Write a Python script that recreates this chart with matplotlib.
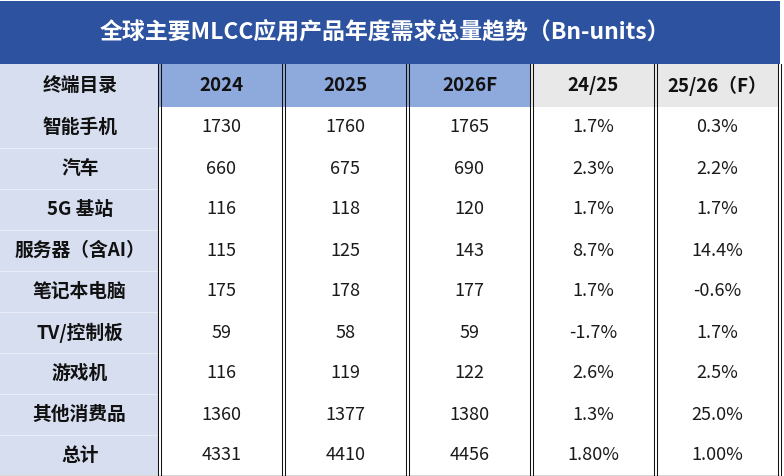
import matplotlib
matplotlib.use("Agg")
import matplotlib.pyplot as plt
from matplotlib.patches import Rectangle

plt.rcParams['font.family'] = ['Noto Sans CJK SC', 'DejaVu Sans']

title = "全球主要MLCC应用产品年度需求总量趋势（Bn-units）"
headers = ["终端目录", "2024", "2025", "2026F", "24/25", "25/26（F）"]
categories = ["智能手机", "汽车", "5G 基站", "服务器（含AI）", "笔记本电脑",
              "TV/控制板", "游戏机", "其他消费品", "总计"]
v2024 = [1730, 660, 116, 115, 175, 59, 116, 1360, 4331]
v2025 = [1760, 675, 118, 125, 178, 58, 119, 1377, 4410]
v2026 = [1765, 690, 120, 143, 177, 59, 122, 1380, 4456]
g2425 = ["1.7%", "2.3%", "1.7%", "8.7%", "1.7%", "-1.7%", "2.6%", "1.3%", "1.80%"]
g2526 = ["0.3%", "2.2%", "1.7%", "14.4%", "-0.6%", "1.7%", "2.5%", "25.0%", "1.00%"]

W, H = 784, 476
fig = plt.figure(figsize=(W / 100, H / 100), dpi=100)
ax = fig.add_axes([0, 0, 1, 1])
ax.set_xlim(0, W)
ax.set_ylim(H, 0)
ax.axis('off')

title_bg = "#2D53A0"
first_col_bg = "#D7DEF0"
head_blue = "#8EA9DB"
head_grey = "#E8E8E8"

col_edges = [0, 159.5, 283.5, 407.5, 531.5, 655.5, 779.5]
title_top, title_bot = 1, 64
head_bot = 107
row_h = (H - head_bot) / len(categories)

# title bar
ax.add_patch(Rectangle((0, title_top), col_edges[-1] + 1, title_bot - title_top,
                       facecolor=title_bg, edgecolor='none'))
ax.text(col_edges[-1] / 2 - 5, (title_top + title_bot) / 2 + 1, title, color='white',
        fontsize=16.5, fontweight='bold', ha='center', va='center')

# first column background
ax.add_patch(Rectangle((0, title_bot), col_edges[1], H - title_bot,
                       facecolor=first_col_bg, edgecolor='none'))
# header fills
for j in range(1, 6):
    c = head_blue if j <= 3 else head_grey
    ax.add_patch(Rectangle((col_edges[j], title_bot), col_edges[j + 1] - col_edges[j],
                           head_bot - title_bot, facecolor=c, edgecolor='none'))

# header text
for j, h in enumerate(headers):
    cx = (col_edges[j] + col_edges[j + 1]) / 2
    ax.text(cx, (title_bot + head_bot) / 2, h, fontsize=13.5, fontweight='heavy',
            ha='center', va='center', color='#111111')

# rows
cols = [v2024, v2025, v2026, g2425, g2526]
for i, cat in enumerate(categories):
    cy = head_bot + row_h * (i + 0.5)
    ax.text(col_edges[1] / 2, cy, cat, fontsize=13.5, fontweight='heavy',
            ha='center', va='center', color='#111111')
    for j, col in enumerate(cols):
        cx = (col_edges[j + 1] + col_edges[j + 2]) / 2
        ax.text(cx, cy, str(col[i]), fontsize=13, ha='center', va='center',
                color='#1a1a1a')
    if i > 0:
        y = head_bot + row_h * i
        ax.plot([0, col_edges[1] - 2], [y, y], color='#EEF1F9', lw=0.6)

# bottom line
ax.plot([0, col_edges[-1]], [H - 1, H - 1], color='#D8D8D8', lw=0.8)

# double vertical lines
for x in col_edges[1:]:
    for dx in (-1.1, 1.1):
        ax.plot([x + dx, x + dx], [title_bot, H], color='#111111', lw=0.75)

fig.savefig("out.png", dpi=100)
